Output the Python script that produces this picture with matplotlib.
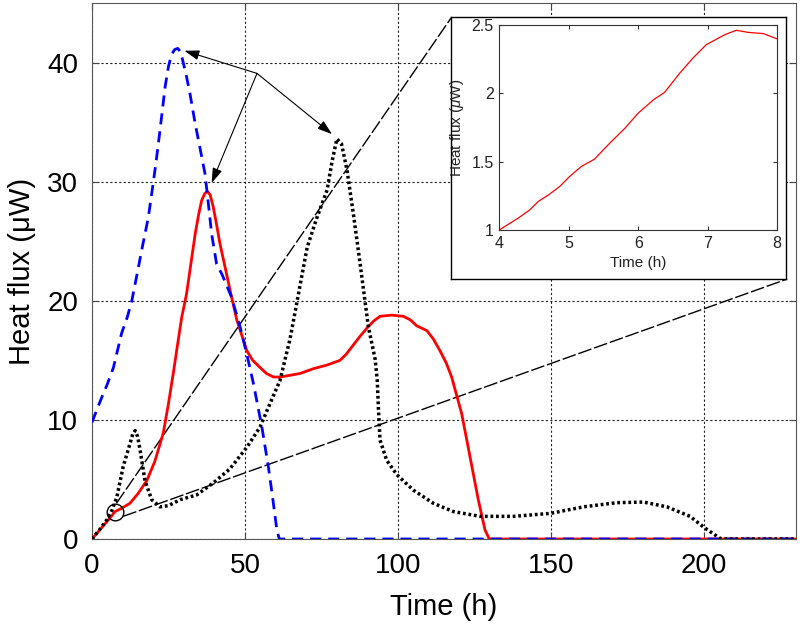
"""
Heat flux curves with zoomed inset of the early red curve
"""

import numpy as np
import matplotlib
matplotlib.use("Agg")
import matplotlib.pyplot as plt

plt.rcParams['font.family'] = ['Liberation Sans', 'DejaVu Sans']
plt.rcParams['mathtext.fontset'] = 'custom'
plt.rcParams['mathtext.it'] = 'Liberation Sans:italic'

# blue dashed curve
blue_t = [0, 1.5, 3.2, 5.0, 7.0, 9.7, 11.5, 13.0, 15.0, 16.5, 18.4, 20.0, 21.0,
          22.2, 23.9, 25.0, 26.0, 27.0, 28.0, 29.0, 30.9, 32.0, 33.7, 35.0,
          36.9, 38.0, 39.1, 40.7, 42.5, 44.0, 45.6, 48.4, 50.5, 52.7, 55.5,
          57.6, 59.0, 60.4, 61.2, 230]
blue_q = [9.8, 10.8, 11.9, 13.0, 14.4, 17.3, 18.6, 20.0, 22.6, 24.6, 27.0, 29.9,
          31.8, 34.3, 38.0, 39.7, 40.7, 41.1, 41.2, 40.9, 38.8, 37.4, 34.9, 33.2,
          30.7, 28.2, 25.6, 23.1, 22.2, 21.3, 20.3, 17.8, 15.6, 13.1, 9.4,
          6.1, 3.5, 0.75, 0, 0]

# red solid curve
red_t = [0, 2.0, 4.0, 6.0, 7.5, 9.5, 12.4, 15.0, 17.9, 20.5, 23.3, 25.0, 26.6,
         28.0, 29.3, 30.9, 32.3, 33.7, 34.8, 35.8, 36.8, 37.7, 38.6, 39.6, 40.7,
         41.8, 43.5, 45.1, 47.3, 50.6, 52.5, 54.9, 57.0, 59.3, 61.5, 63.6, 68.0,
         72.3, 76.7, 81.0, 83.0, 85.4, 87.5, 89.8, 92.0, 94.1, 98.0, 101.7,
         104.0, 106.1, 109.4, 111.5, 113.7, 115.7, 117.5, 120.8, 123.5, 126.2,
         128.4, 129.8, 230]
red_q = [0, 0.6, 1.2, 1.8, 2.3, 2.55, 3.0, 3.8, 4.9, 6.5, 8.9, 11.4, 14.0,
         16.4, 18.6, 20.6, 23.1, 25.6, 27.2, 28.4, 29.0, 29.2, 28.9, 27.9, 26.4,
         24.8, 22.8, 20.9, 18.4, 15.8, 15.0, 14.4, 13.9, 13.6, 13.6, 13.7, 13.9,
         14.3, 14.6, 15.0, 15.5, 16.3, 17.0, 17.7, 18.3, 18.7, 18.8, 18.7,
         18.4, 17.9, 17.5, 16.8, 15.8, 14.8, 13.6, 10.5, 6.9, 3.3,
         0.75, 0, 0]

# black dotted curve
black_t = [0, 2.5, 4.8, 6.5, 8.1, 10.2, 12.4, 13.3, 14.1, 14.9, 15.7, 17.3,
           19.5, 22.2, 25.0, 28.8, 34.2, 39.6, 45.1, 50.6, 54.9, 58.2, 61.4,
           64.7, 67.4, 70.3, 73.5, 76.8, 78.5, 80.0, 81.5, 83.3, 85.5, 87.6,
           90.3, 92.5, 93.2, 93.6, 94.1, 96.3, 99.6, 105.0, 111.5, 118.1,
           126.8, 137.7, 149.7, 160.6, 171.5, 180.2, 187.8, 195.4, 199.8, 205.2,
           206.5, 230]
black_q = [0, 0.8, 1.6, 2.4, 3.5, 6.1, 8.0, 8.8, 9.1, 8.6, 7.5, 4.9,
           3.3, 2.7, 2.8, 3.3, 3.7, 4.7, 5.9, 7.7, 9.4, 11.4, 13.3,
           16.8, 20.5, 24.5, 27.0, 29.3, 31.8, 33.6, 33.2, 31.0, 27.1, 23.1,
           17.8, 15.1, 13.3, 10.8, 8.3, 6.6, 5.4, 4.1, 3.0, 2.3,
           1.9, 1.9, 2.15, 2.7, 3.05, 3.1, 2.7, 1.9, 1.0, 0.05,
           0, 0]

# inset (red curve, 4-8 h)
inset_t = [4.0, 4.27, 4.44, 4.56, 4.71, 4.87, 5.01, 5.18, 5.37, 5.59, 5.81, 6.0,
           6.22, 6.38, 6.60, 6.79, 6.98, 7.25, 7.41, 7.58, 7.80, 8.0]
inset_q = [1.0, 1.086, 1.147, 1.208, 1.257, 1.318, 1.39, 1.464, 1.518, 1.635,
           1.745, 1.855, 1.953, 2.007, 2.149, 2.259, 2.356, 2.43, 2.461, 2.446,
           2.437, 2.398]

# annotation points
arrow_from = (53.9, 39.1)
arrow_to = [(30.2, 41.0), (39.1, 29.9), (78.4, 34.0)]
zoom_mark = (7.5, 2.3)
zoom_upper = [(8.0, 3.0), (117.3, 43.75)]
zoom_lower = [(10.2, 1.9), (226.8, 21.8)]

fig = plt.figure(figsize=(8, 6.26), dpi=100)
ax = fig.add_axes([0.115, 0.139, 0.88, 0.856])

ax.plot(red_t, red_q, color='red', lw=2, zorder=3)
ax.plot(blue_t, blue_q, color='blue', lw=2, ls=(0, (4, 2.5)), zorder=4)
ax.plot(black_t, black_q, color='black', lw=2.5, ls=(0, (0.8, 0.8)), zorder=5)

for p0, p1 in (zoom_upper, zoom_lower):
    ax.plot([p0[0], p1[0]], [p0[1], p1[1]], color='black', lw=1.0,
            ls=(0, (10, 2)), zorder=2)
ax.plot(*zoom_mark, marker='o', ms=12, mfc='none', mec='black', mew=1, zorder=6)

for tip in arrow_to:
    ax.annotate('', xy=tip, xytext=arrow_from,
                arrowprops=dict(arrowstyle='-|>,head_length=0.9,head_width=0.3',
                                color='black', lw=0.8, shrinkA=0, shrinkB=0),
                zorder=7)

ax.set_xlim(0, 230)
ax.set_ylim(0, 45)
ax.set_xticks([0, 50, 100, 150, 200])
ax.set_yticks([0, 10, 20, 30, 40])
ax.grid(True, color='#222222', lw=0.8, ls=(0, (2, 2)))
ax.tick_params(direction='in', labelsize=20, length=5, colors='#444444',
               labelcolor='black', top=True, right=True, pad=10)
for s in ax.spines.values():
    s.set_color('#555555')
ax.set_xlabel('Time (h)', fontsize=21, labelpad=10)
ax.set_ylabel('Heat flux (μW)', fontsize=21, labelpad=8)

# white box behind inset
box = fig.add_axes([0.564, 0.5543, 0.419, 0.4185])
box.set_xticks([])
box.set_yticks([])
for s in box.spines.values():
    s.set_color('black')
    s.set_linewidth(1.0)

ins = fig.add_axes([0.624, 0.6326, 0.3475, 0.3275])
ins.plot(inset_t, inset_q, color='red', lw=0.9)
ins.set_xlim(4, 8)
ins.set_ylim(1, 2.5)
ins.set_xticks([4, 5, 6, 7, 8])
ins.set_yticks([1, 1.5, 2, 2.5])
ins.set_yticklabels(['1', '1.5', '2', '2.5'])
ins.tick_params(direction='in', labelsize=11.5, length=3, top=True, right=True,
                colors='#333333', labelcolor='#222222', pad=4)
for s in ins.spines.values():
    s.set_color('#333333')
ins.set_xlabel('Time (h)', fontsize=11, labelpad=4, color='#222222')
ins.set_ylabel(r'Heat flux ($\mu$W)', fontsize=11, labelpad=4, color='#222222')

fig.savefig('out.png', dpi=100)
